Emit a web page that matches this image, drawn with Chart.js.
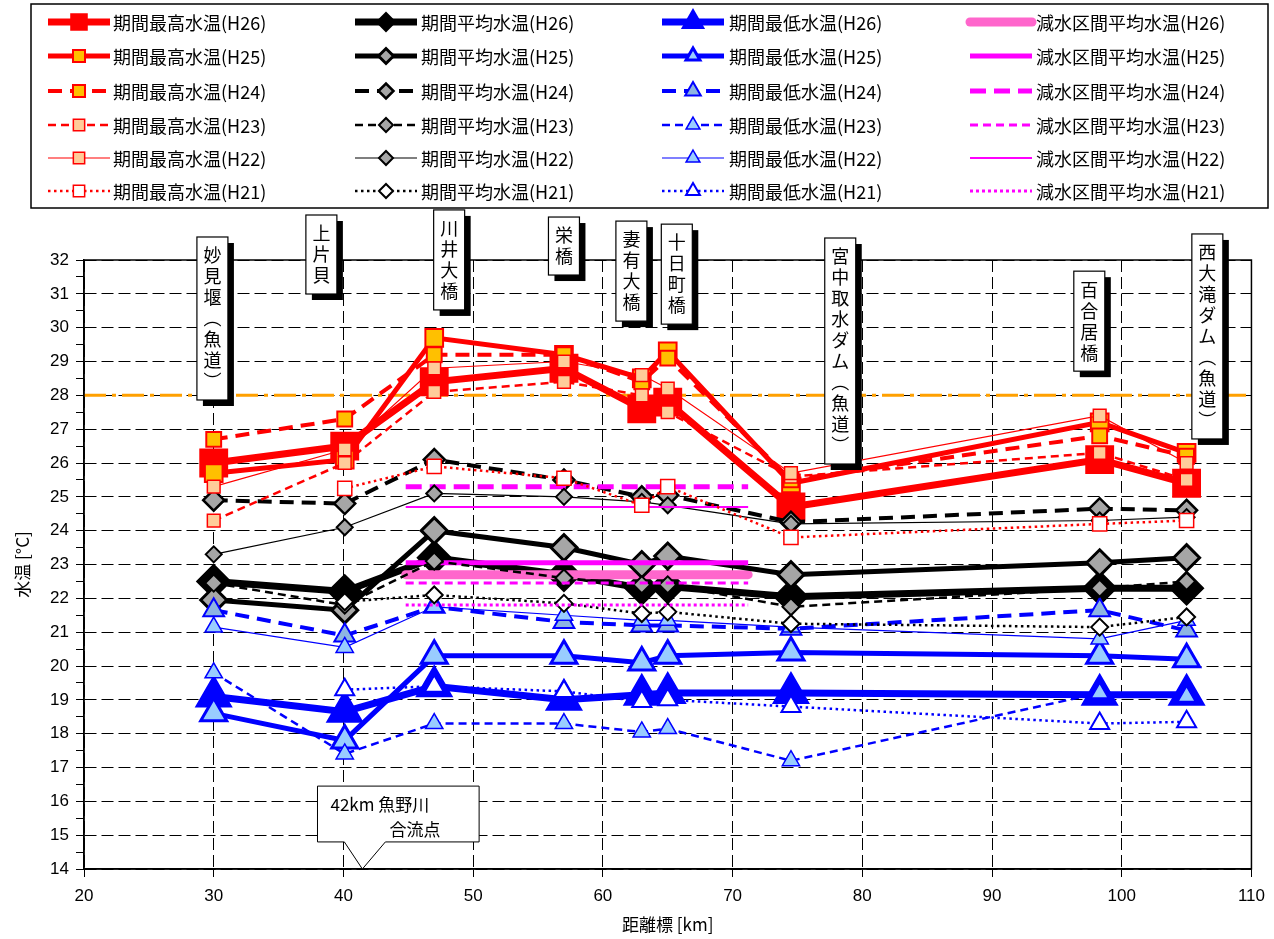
<!DOCTYPE html>
<html>
<head>
<meta charset="utf-8">
<script src="https://cdn.jsdelivr.net/npm/chart.js@4.4.1/dist/chart.umd.min.js"></script>
<style>
html, body { margin: 0; padding: 0; background: #fff; }
#wrap { width: 1274px; height: 939px; }
</style>
</head>
<body>
<div id="wrap"><canvas id="chart" width="1274" height="939"></canvas></div>
<script>
// distance markers [km]
const distances = [30, 40.1, 47, 57, 63, 65, 74.5, 98.3, 105];
const years = ['H26', 'H25', 'H24', 'H23', 'H22', 'H21'];

// 期間最高水温
const maxH26 = [26.0, 26.5, 28.4, 28.8, 27.6, 27.8, 24.7, 26.1, 25.4];
const maxH25 = [25.7, 26.1, 29.7, 29.2, 28.5, 29.3, 25.4, 27.2, 26.3];
const maxH24 = [26.7, 27.3, 29.2, 29.2, 28.4, 29.1, 25.5, 26.8, 26.2];
const maxH23 = [24.3, 26.0, 28.1, 28.4, 28.0, 27.5, 25.6, 26.3, 25.5];
const maxH22 = [25.3, 26.4, 28.8, 29.0, 28.6, 28.2, 25.7, 27.4, 26.0];
const maxH21 = [null, 25.25, 25.9, 25.55, 24.75, 25.3, 23.8, 24.2, 24.3];

// 期間平均水温
const avgH26 = [22.5, 22.2, 23.2, 22.7, 22.3, 22.35, 22.05, 22.3, 22.3];
const avgH25 = [21.95, 21.65, 24.0, 23.5, 23.0, 23.25, 22.7, 23.05, 23.2];
const avgH24 = [24.9, 24.8, 26.1, 25.5, 25.0, 25.05, 24.25, 24.65, 24.6];
const avgH23 = [22.45, 21.8, 23.1, 22.6, 22.4, 22.4, 21.75, 22.3, 22.5];
const avgH22 = [23.3, 24.1, 25.1, 25.0, 24.85, 24.75, 24.2, 24.3, 24.4];
const avgH21 = [null, 21.9, 22.1, 21.85, 21.55, 21.6, 21.25, 21.15, 21.45];

// 期間最低水温
const minH26 = [19.1, 18.65, 19.4, 19.0, 19.15, 19.2, 19.2, 19.15, 19.15];
const minH25 = [18.6, 17.8, 20.3, 20.3, 20.1, 20.3, 20.4, 20.3, 20.2];
const minH24 = [21.65, 20.9, 21.75, 21.3, 21.2, 21.2, 21.1, 21.65, 21.05];
const minH23 = [19.8, 17.4, 18.3, 18.3, 18.05, 18.15, 17.2, 19.2, 19.1];
const minH22 = [21.15, 20.55, 21.75, 21.5, 21.35, 21.35, 21.15, 20.8, 21.35];
const minH21 = [null, 19.3, 19.4, 19.25, 18.95, 19.0, 18.8, 18.3, 18.35];

// 減水区間平均水温 (start / end of reduced-flow section)
const reducedRange = [44.8, 71.2];
const redH26 = [22.7, 22.7];
const redH25 = [23.05, 23.05];
const redH24 = [25.3, 25.3];
const redH23 = [22.45, 22.45];
const redH22 = [24.7, 24.7];
const redH21 = [21.8, 21.8];

const limitRange = [20, 110];
const limitValue = [28, 28];

const stationNames = ['妙見堰︵魚道︶', '上片貝', '川井大橋', '栄橋', '妻有大橋', '十日町橋', '宮中取水ダム︵魚道︶', '百合居橋', '西大滝ダム︵魚道︶'];
const yTicks = { min: 14, max: 32 };
const xTicks = { min: 20, max: 110, step: 10 };

const maxData = { H26: maxH26, H25: maxH25, H24: maxH24, H23: maxH23, H22: maxH22, H21: maxH21 };
const avgData = { H26: avgH26, H25: avgH25, H24: avgH24, H23: avgH23, H22: avgH22, H21: avgH21 };
const minData = { H26: minH26, H25: minH25, H24: minH24, H23: minH23, H22: minH22, H21: minH21 };
const redData = { H26: redH26, H25: redH25, H24: redH24, H23: redH23, H22: redH22, H21: redH21 };

const RED = '#ff0000', BLACK = '#000000', BLUE = '#0000ff', MAGENTA = '#ff00ff';
const DOT = [2.5, 3.5];

const maxStyle = {
    H26: { width: 7, dash: [], r: 19, fill: RED, pw: 2, lr: 11 },
    H25: { width: 5, dash: [], r: 12.5, fill: '#ffc000', pw: 2, lr: 8.5 },
    H24: { width: 4, dash: [14, 8], r: 10.5, fill: '#ffc000', pw: 2, lr: 8.5 },
    H23: { width: 2.5, dash: [8, 5], r: 9, fill: '#ffcc99', pw: 1.5, lr: 8 },
    H22: { width: 1.2, dash: [], r: 9, fill: '#ffcc99', pw: 1.5, lr: 8 },
    H21: { width: 2.5, dash: DOT, r: 10, fill: '#ffffff', pw: 1.5, lr: 8 }
};
const avgStyle = {
    H26: { width: 7, dash: [], r: 16.5, fill: BLACK, pw: 2, lr: 9 },
    H25: { width: 5, dash: [], r: 13, fill: '#a6a6a6', pw: 3, lr: 7.5 },
    H24: { width: 4, dash: [14, 8], r: 10.5, fill: '#a6a6a6', pw: 2.5, lr: 7.5 },
    H23: { width: 2.5, dash: [8, 5], r: 8.5, fill: '#a6a6a6', pw: 2, lr: 7 },
    H22: { width: 1.2, dash: [], r: 8, fill: '#a6a6a6', pw: 2, lr: 7 },
    H21: { width: 2.5, dash: DOT, r: 8.5, fill: '#ffffff', pw: 2, lr: 7 }
};
const minStyle = {
    H26: { width: 7, dash: [], r: 19, fill: BLUE, pw: 3, lr: 11 },
    H25: { width: 5, dash: [], r: 15, fill: '#99ccff', pw: 3, lr: 8 },
    H24: { width: 4, dash: [14, 8], r: 12, fill: '#8db4e2', pw: 2, lr: 9 },
    H23: { width: 2.5, dash: [8, 5], r: 10, fill: '#99ccff', pw: 1.5, lr: 8 },
    H22: { width: 1.2, dash: [], r: 10, fill: '#99ccff', pw: 1.5, lr: 8 },
    H21: { width: 2.5, dash: DOT, r: 11, fill: '#ffffff', pw: 2, lr: 8 }
};
const redStyle = {
    H26: { color: '#ff66cc', width: 9, dash: [], cap: 'round' },
    H25: { color: MAGENTA, width: 5, dash: [] },
    H24: { color: MAGENTA, width: 5, dash: [16, 8] },
    H23: { color: MAGENTA, width: 3, dash: [8, 5] },
    H22: { color: MAGENTA, width: 2, dash: [] },
    H21: { color: MAGENTA, width: 3, dash: [3, 3] }
};

function pointSeries(label, values, color, shape, st) {
    return {
        label: label,
        data: values.map((v, i) => ({ x: distances[i], y: v })),
        borderColor: color,
        borderWidth: st.width,
        borderDash: st.dash,
        pointStyle: shape,
        pointRadius: st.r,
        pointBackgroundColor: st.fill,
        pointBorderColor: color,
        pointBorderWidth: st.pw,
        legendRadius: st.lr,
        tension: 0
    };
}

function reducedSeries(label, values, st) {
    return {
        label: label,
        data: values.map((v, i) => ({ x: reducedRange[i], y: v })),
        borderColor: st.color,
        borderWidth: st.width,
        borderDash: st.dash,
        borderCapStyle: st.cap || 'butt',
        pointRadius: 0,
        tension: 0
    };
}

const datasets = [];
years.forEach(y => {
    datasets.push(pointSeries('期間最高水温(' + y + ')', maxData[y], RED, 'rect', maxStyle[y]));
    datasets.push(pointSeries('期間平均水温(' + y + ')', avgData[y], BLACK, 'rectRot', avgStyle[y]));
    datasets.push(pointSeries('期間最低水温(' + y + ')', minData[y], BLUE, 'triangle', minStyle[y]));
    datasets.push(reducedSeries('減水区間平均水温(' + y + ')', redData[y], redStyle[y]));
});
// later series are drawn on top, like the original
datasets.forEach((d, i) => { d.order = -i; });

datasets.push({
    label: 'limit',
    noLegend: true,
    data: limitValue.map((v, i) => ({ x: limitRange[i], y: v })),
    borderColor: '#ffa000',
    borderWidth: 3,
    borderDash: [22, 6, 4, 6],
    pointRadius: 0,
    order: 10
});

const JP = '"Noto Sans CJK JP", "Noto Sans", sans-serif';
const NUM = '"Liberation Sans", Arial, sans-serif';

const decor = {
    id: 'decor',
    afterDatasetsDraw(chart) {
        const { ctx, chartArea: a, scales: { x, y } } = chart;
        ctx.save();

        // plot frame
        ctx.strokeStyle = '#000';
        ctx.lineWidth = 1.5;
        ctx.setLineDash([]);
        ctx.strokeRect(a.left, a.top, a.right - a.left, a.bottom - a.top);

        // station labels (vertical text boxes)
        const anchors = [[29.9, 32.68], [38.3, 33.33], [48.15, 33.48], [57.0, 33.27], [62.2, 33.15],
                         [65.7, 33.06], [78.3, 32.65], [97.5, 31.67], [106.6, 32.77]];
        const step = 21, bw = 31;
        ctx.font = '18px ' + JP;
        ctx.textAlign = 'center';
        ctx.textBaseline = 'middle';
        stationNames.forEach((name, k) => {
            const chars = Array.from(name);
            const cx = x.getPixelForValue(anchors[k][0]);
            const top = y.getPixelForValue(anchors[k][1]);
            const h = chars.length * step + 16;
            ctx.fillStyle = '#000';
            ctx.fillRect(cx - bw / 2 + 6, top + 6, bw, h);
            ctx.fillStyle = '#fff';
            ctx.fillRect(cx - bw / 2, top, bw, h);
            ctx.lineWidth = 1.2;
            ctx.strokeStyle = '#000';
            ctx.strokeRect(cx - bw / 2, top, bw, h);
            ctx.fillStyle = '#000';
            chars.forEach((c, j) => ctx.fillText(c, cx, top + 8 + step * j + step / 2));
        });

        // callout 42km
        const L = x.getPixelForValue(38.0), R = x.getPixelForValue(50.46);
        const T = y.getPixelForValue(16.45), B = y.getPixelForValue(14.8);
        const tipX = x.getPixelForValue(41.46), tipY = y.getPixelForValue(14);
        ctx.beginPath();
        ctx.moveTo(L, T);
        ctx.lineTo(R, T);
        ctx.lineTo(R, B);
        ctx.lineTo(tipX + 23, B);
        ctx.lineTo(tipX, tipY);
        ctx.lineTo(tipX - 18, B);
        ctx.lineTo(L, B);
        ctx.closePath();
        ctx.fillStyle = '#fff';
        ctx.fill();
        ctx.lineWidth = 1;
        ctx.stroke();
        ctx.fillStyle = '#000';
        ctx.textAlign = 'left';
        ctx.font = '17px ' + JP;
        ctx.fillText('42km 魚野川', L + 13, T + 18);
        ctx.fillText('合流点', L + 72, T + 43);
        ctx.restore();
    },
    afterDraw(chart) {
        const ctx = chart.ctx;
        ctx.save();
        ctx.strokeStyle = '#000';
        ctx.lineWidth = 1.5;
        ctx.setLineDash([]);
        ctx.strokeRect(31, 4, 1237, 204);

        const rows = [22, 56, 91, 125, 158, 191];
        const lineX = [48, 355, 662, 970];
        const textX = [113, 421, 729, 1036];
        const len = 62;
        chart.data.datasets.forEach((d, i) => {
            if (d.noLegend) return;
            const row = Math.floor(i / 4), col = i % 4;
            const yy = rows[row], x0 = lineX[col];
            ctx.beginPath();
            ctx.strokeStyle = d.borderColor;
            ctx.lineWidth = d.borderWidth;
            ctx.lineCap = d.borderCapStyle || 'butt';
            ctx.setLineDash(d.borderDash || []);
            ctx.moveTo(x0, yy);
            ctx.lineTo(x0 + len, yy);
            ctx.stroke();
            if (d.pointRadius > 0) {
                ctx.setLineDash([]);
                ctx.fillStyle = d.pointBackgroundColor;
                ctx.strokeStyle = d.pointBorderColor;
                ctx.lineWidth = d.pointBorderWidth;
                Chart.helpers.drawPoint(ctx, {
                    pointStyle: d.pointStyle, radius: d.legendRadius,
                    borderWidth: d.pointBorderWidth, rotation: 0
                }, x0 + len / 2, yy);
            }
            ctx.fillStyle = '#000';
            ctx.font = '18px ' + JP;
            ctx.textAlign = 'left';
            ctx.textBaseline = 'middle';
            ctx.fillText(d.label, textX[col], yy + 1);
        });
        ctx.restore();
    }
};

new Chart(document.getElementById('chart'), {
    type: 'line',
    data: { datasets: datasets },
    options: {
        responsive: false,
        animation: false,
        layout: { padding: { top: 260, right: 20, left: 0, bottom: 0 } },
        plugins: { legend: { display: false }, tooltip: { enabled: false } },
        scales: {
            x: {
                type: 'linear',
                min: xTicks.min,
                max: xTicks.max,
                afterFit: s => { s.height = 70; },
                ticks: { stepSize: xTicks.step, color: '#000', font: { family: NUM, size: 17 }, padding: 9 },
                grid: { color: '#000', lineWidth: 1, tickLength: 8, tickColor: '#000' },
                border: { color: '#000', width: 1.5, dash: [12, 5] },
                title: { display: true, text: '距離標 [km]', color: '#000', font: { family: JP, size: 17 }, padding: { top: 0, bottom: 4 } }
            },
            y: {
                min: yTicks.min,
                max: yTicks.max,
                afterFit: s => { s.width = 84; },
                ticks: {
                    stepSize: 0.5,
                    autoSkip: false,
                    color: '#000',
                    font: { family: NUM, size: 17 },
                    padding: 7,
                    callback: v => (Math.abs(v % 1) < 1e-9 ? v : '')
                },
                grid: {
                    color: c => (Math.abs(c.tick.value % 1) < 1e-9 ? '#000' : 'rgba(0,0,0,0)'),
                    lineWidth: 1,
                    tickLength: 8,
                    tickColor: '#000'
                },
                border: { color: '#000', width: 1.5, dash: [12, 5] },
                title: { display: true, text: '水温 [°C]', color: '#000', font: { family: JP, size: 17 }, padding: { top: 12, bottom: 0 } }
            }
        }
    },
    plugins: [decor]
});
</script>
</body>
</html>
